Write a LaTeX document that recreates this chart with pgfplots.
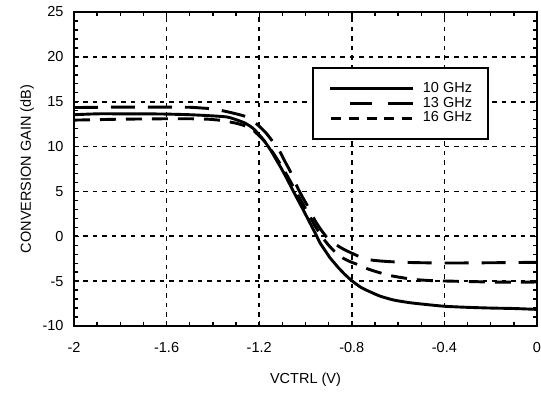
\documentclass[border=0pt]{standalone}
\usepackage{fontspec}
\setmainfont{Liberation Sans}
\usepackage{pgfplots}
\pgfplotsset{compat=1.18}
\pgfplotsset{
  legA/.style={legend image code/.code={\draw[##1] (0pt,0.5pt) -- (83.3pt,0.5pt);}},
  legB/.style={legend image code/.code={\draw[##1, dash pattern=on 0pt off 20pt on 22pt off 16pt on 26pt] (0pt,0pt) -- (83.3pt,0pt);}},
  legC/.style={legend image code/.code={\draw[##1, dash pattern=on 10pt off 7.7pt] (1pt,0pt) -- (83.3pt,0pt);}},
}
\begin{document}
\begin{tikzpicture}
\path[use as bounding box] (-74pt,-68pt) rectangle (467pt,326pt);
\begin{axis}[
  scale only axis, width=463pt, height=314pt,
  at={(0pt,0pt)}, anchor=south west,
  xmin=-2, xmax=0, ymin=-10, ymax=25,
  xtick={-2,-1.6,-1.2,-0.8,-0.4,0},
  ytick={-10,-5,0,5,10,15,20,25},
  minor x tick num=3, minor y tick num=4,
  tick align=inside,
  major tick length=5pt, minor tick length=4pt,
  every tick/.style={black, line width=1.4pt},
  axis line style={line width=2pt},
  grid=major,
  major grid style={black, line width=1.6pt, dash pattern=on 4.5pt off 5pt},
  /pgf/number format/assume math mode=true,
  ticklabel style={font=\fontsize{14.5}{17}\selectfont},
  xticklabel style={yshift=-13pt},
  yticklabel style={xshift=-7pt},
  xlabel={VCTRL (V)}, ylabel={CONVERSION GAIN (dB)},
  label style={font=\fontsize{14.5}{17}\selectfont},
  xlabel style={at={(axis description cs:0.5,0)}, anchor=center, yshift=-54pt},
  ylabel style={at={(axis description cs:0,0.5)}, anchor=center, yshift=47pt},
  legend style={
    at={(0.5134,0.8258)}, anchor=north west,
    draw=black, line width=2pt,
    inner xsep=16pt, inner ysep=14pt,
    font=\fontsize{14.5}{17}\selectfont,
    nodes={inner xsep=0pt, inner ysep=0.3pt, text height=10.5pt, text depth=3.5pt},
    column sep=8pt, row sep=0pt,
  },
  legend cell align=left,
]
\addplot[black, line width=2.9pt, smooth, tension=0.4, legA]
coordinates {
(-2.00,13.55) (-1.90,13.65) (-1.80,13.65) (-1.70,13.65) (-1.60,13.62) (-1.50,13.55)
(-1.42,13.45) (-1.34,13.3) (-1.30,13.0) (-1.26,12.6) (-1.23,12.1) (-1.21,11.6)
(-1.18,10.7) (-1.153,9.7) (-1.13,8.7) (-1.103,7.5) (-1.08,6.4) (-1.06,5.4)
(-1.04,4.4) (-1.017,3.3) (-0.995,2.2) (-0.973,1.1) (-0.955,0.2) (-0.937,-0.75)
(-0.915,-1.6) (-0.894,-2.4) (-0.876,-2.95) (-0.858,-3.5) (-0.83,-4.25) (-0.80,-4.95)
(-0.76,-5.7) (-0.72,-6.2) (-0.68,-6.65) (-0.62,-7.1) (-0.55,-7.4) (-0.48,-7.6)
(-0.40,-7.8) (-0.30,-7.92) (-0.20,-8.0) (-0.10,-8.05) (0.00,-8.15)
};
\addlegendentry{10 GHz}
\addplot[black, line width=2.9pt, dash pattern=on 24pt off 13pt, smooth, tension=0.4, legB]
coordinates {
(-2.00,14.35) (-1.80,14.4) (-1.60,14.4) (-1.50,14.38) (-1.45,14.3) (-1.40,14.2)
(-1.35,13.95) (-1.30,13.65) (-1.254,13.3) (-1.21,12.5) (-1.17,11.5) (-1.14,10.5)
(-1.11,9.4) (-1.09,8.4) (-1.067,7.3) (-1.05,6.3) (-1.03,5.2) (-1.005,4.0)
(-0.98,2.9) (-0.96,1.8) (-0.935,0.8) (-0.91,-0.05) (-0.885,-0.6) (-0.858,-1.1)
(-0.835,-1.45) (-0.815,-1.7) (-0.79,-2.0) (-0.76,-2.35) (-0.736,-2.55) (-0.70,-2.7)
(-0.64,-2.82) (-0.55,-2.92) (-0.40,-2.98) (-0.20,-2.95) (0.00,-2.9)
};
\addlegendentry{13 GHz}
\addplot[black, line width=2.9pt, dash pattern=on 16pt off 10pt, smooth, tension=0.4, legC]
coordinates {
(-2.00,12.95) (-1.90,13.0) (-1.80,13.05) (-1.60,13.1) (-1.50,13.1) (-1.42,13.05)
(-1.36,12.9) (-1.30,12.6) (-1.26,12.3) (-1.23,11.9) (-1.20,11.2) (-1.17,10.4)
(-1.14,9.3) (-1.11,8.1) (-1.08,6.8) (-1.05,5.4) (-1.02,4.0) (-0.99,2.6)
(-0.96,1.2) (-0.93,0.0) (-0.90,-1.0) (-0.87,-1.8) (-0.84,-2.4) (-0.81,-2.8)
(-0.78,-3.1) (-0.74,-3.55) (-0.70,-3.9) (-0.66,-4.2) (-0.62,-4.45) (-0.535,-4.8)
(-0.45,-4.95) (-0.37,-5.0) (-0.19,-5.1) (0.00,-5.1)
};
\addlegendentry{16 GHz}
\end{axis}
\end{tikzpicture}
\end{document}
